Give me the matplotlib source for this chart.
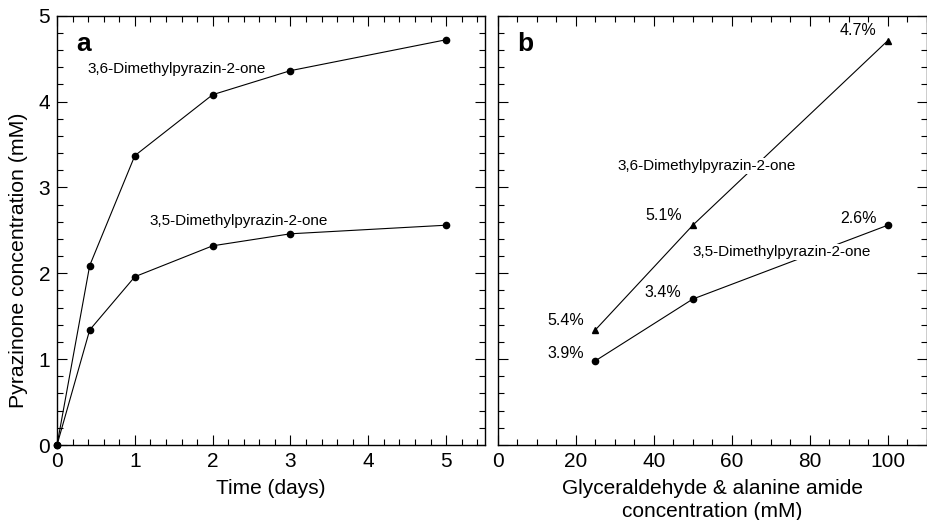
import matplotlib
matplotlib.use("Agg")
import matplotlib.pyplot as plt
from matplotlib.ticker import MultipleLocator

plt.rcParams['font.family'] = ['Liberation Sans', 'DejaVu Sans']

# Panel a data
days = [0, 0.42, 1, 2, 3, 5]
dmp36_time = [0, 2.09, 3.37, 4.08, 4.36, 4.72]
dmp35_time = [0, 1.34, 1.96, 2.32, 2.46, 2.56]

# Panel b data
conc = [25, 50, 100]
dmp36_conc = [1.34, 2.56, 4.71]
dmp35_conc = [0.98, 1.70, 2.56]
pct36 = ["5.4%", "5.1%", "4.7%"]
pct35 = ["3.9%", "3.4%", "2.6%"]

fig = plt.figure(figsize=(9.27, 5.2), dpi=100)
axa = fig.add_axes([0.0615, 0.1442, 0.4617, 0.8256])
axb = fig.add_axes([0.537, 0.1442, 0.4628, 0.8256])

lw = 0.8
for ax in (axa, axb):
    ax.set_ylim(0, 5)
    ax.yaxis.set_major_locator(MultipleLocator(1))
    ax.yaxis.set_minor_locator(MultipleLocator(0.2))
    ax.tick_params(which='both', direction='in', top=True, right=True,
                   labelsize=15, width=0.8)
    ax.tick_params(axis='x', pad=5)
    ax.tick_params(axis='y', pad=5)
    ax.tick_params(which='major', length=7)
    ax.tick_params(which='minor', length=4)
    for s in ax.spines.values():
        s.set_linewidth(1.0)

# Panel a
axa.set_xlim(0, 5.5)
axa.xaxis.set_major_locator(MultipleLocator(1))
axa.xaxis.set_minor_locator(MultipleLocator(0.2))
axa.plot(days, dmp36_time, '-o', color='black', lw=lw, ms=4.5, clip_on=False, zorder=3)
axa.plot(days, dmp35_time, '-o', color='black', lw=lw, ms=4.5, clip_on=False, zorder=3)
axa.text(0.39, 4.38, "3,6-Dimethylpyrazin-2-one", fontsize=11, va='center', ha='left')
axa.text(1.19, 2.61, "3,5-Dimethylpyrazin-2-one", fontsize=11, va='center', ha='left')
axa.text(0.045, 0.935, "a", transform=axa.transAxes, fontsize=19, fontweight='bold',
         va='center', ha='left')
axa.set_xlabel("Time (days)", fontsize=15, labelpad=6)
axa.set_ylabel("Pyrazinone concentration (mM)", fontsize=15.3)
axa.yaxis.set_label_coords(-0.068, 0.43)

# Panel b
axb.set_xlim(0, 110)
axb.xaxis.set_major_locator(MultipleLocator(20))
axb.xaxis.set_minor_locator(MultipleLocator(5))
axb.set_yticklabels([])
axb.plot(conc, dmp36_conc, '-^', color='black', lw=lw, ms=5, zorder=2)
axb.plot(conc, dmp35_conc, '-o', color='black', lw=lw, ms=4.5, zorder=2)
axb.text(30.6, 3.25, "3,6-Dimethylpyrazin-2-one", fontsize=11, va='center', ha='left',
         zorder=4, bbox=dict(facecolor='white', edgecolor='none', pad=0.5))
axb.text(49.8, 2.25, "3,5-Dimethylpyrazin-2-one", fontsize=11, va='center', ha='left',
         zorder=4, bbox=dict(facecolor='white', edgecolor='none', pad=0.5))
for x, y, t in zip(conc, dmp36_conc, pct36):
    axb.annotate(t, (x, y), xytext=(-8, 7), textcoords='offset points',
                 fontsize=11.5, ha='right', va='center')
for x, y, t in zip(conc, dmp35_conc, pct35):
    axb.annotate(t, (x, y), xytext=(-8, 5), textcoords='offset points',
                 fontsize=11.5, ha='right', va='center')
axb.text(0.045, 0.935, "b", transform=axb.transAxes, fontsize=19, fontweight='bold',
         va='center', ha='left')
axb.set_xlabel("Glyceraldehyde & alanine amide\nconcentration (mM)", fontsize=15,
               labelpad=6, linespacing=1.22)

fig.savefig("out.png", dpi=100)
